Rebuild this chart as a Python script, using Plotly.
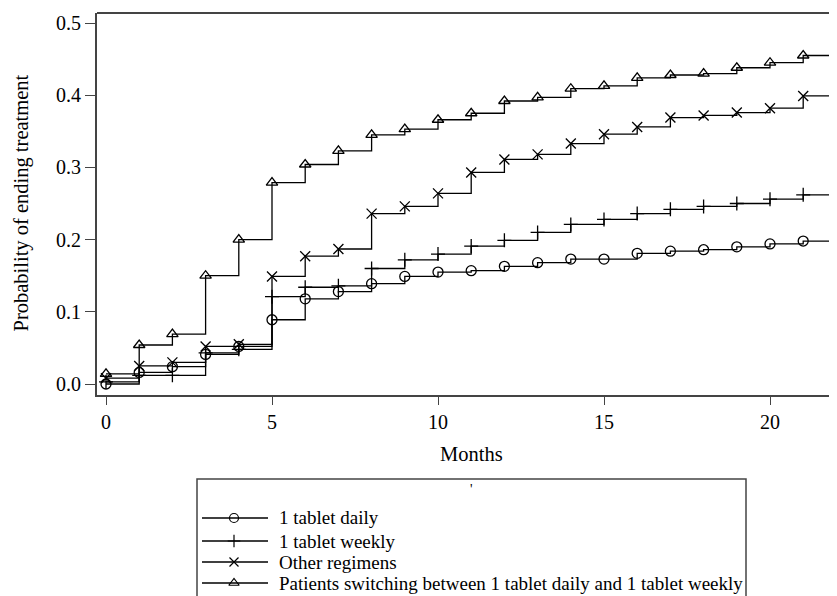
import plotly.graph_objects as go

months = list(range(0, 23))

daily = [0.000, 0.016, 0.024, 0.041, 0.052, 0.089, 0.118, 0.128, 0.139, 0.149, 0.155,
         0.157, 0.163, 0.168, 0.173, 0.173, 0.181, 0.184, 0.186, 0.190, 0.194, 0.198, 0.203]
weekly = [0.003, 0.012, 0.012, 0.043, 0.048, 0.121, 0.134, 0.136, 0.160, 0.172, 0.180,
          0.191, 0.199, 0.210, 0.221, 0.228, 0.236, 0.242, 0.246, 0.250, 0.256, 0.262, 0.267]
other = [0.008, 0.025, 0.030, 0.052, 0.055, 0.149, 0.177, 0.187, 0.236, 0.246, 0.264,
         0.293, 0.311, 0.318, 0.333, 0.346, 0.356, 0.369, 0.372, 0.376, 0.382, 0.399, 0.403]
switching = [0.014, 0.054, 0.069, 0.150, 0.200, 0.279, 0.304, 0.323, 0.345, 0.353, 0.366,
             0.375, 0.392, 0.397, 0.409, 0.413, 0.424, 0.428, 0.430, 0.438, 0.445, 0.455, 0.458]

series_names = ["1 tablet daily", "1 tablet weekly", "Other regimens",
                "Patients switching between 1 tablet daily and 1 tablet weekly"]
series_values = [daily, weekly, other, switching]
symbols = ["circle-open", "cross-thin-open", "x-thin-open", "triangle-up-open"]

x_ticks = [0, 5, 10, 15, 20]
y_ticks = [0.0, 0.1, 0.2, 0.3, 0.4, 0.5]
y_tick_labels = ["0.0", "0.1", "0.2", "0.3", "0.4", "0.5"]

# page geometry: the browser body has an 8px margin, so compensate for it
WIN_W, WIN_H, OFF = 837, 596, 8
W, H = WIN_W - 2 * OFF, WIN_H - OFF
RIGHT_PX = OFF + W
BOTTOM_PX = OFF + H
FONT = "Liberation Serif"
AX = "#444444"


def px_x(px):
    return (px - OFF) / W


def px_y(py):
    return (BOTTOM_PX - py) / H


fig = go.Figure()

for name, vals, sym in zip(series_names, series_values, symbols):
    fig.add_trace(go.Scatter(
        x=months, y=vals, mode="lines+markers", name=name,
        line=dict(color="black", width=1.3, shape="hv"),
        marker=dict(symbol=sym, size=10, color="black",
                    line=dict(color="black", width=1.3)),
        showlegend=False, xaxis="x", yaxis="y",
    ))

# manual legend drawn on a helper axis pair whose units are page pixels
legend_rows = [518, 541, 562, 583]
for name, sym, ry in zip(series_names, symbols, legend_rows):
    fig.add_trace(go.Scatter(
        x=[202, 268], y=[ry, ry], mode="lines",
        line=dict(color="black", width=1.3), showlegend=False,
        xaxis="x2", yaxis="y2", hoverinfo="skip"))
    fig.add_trace(go.Scatter(
        x=[234], y=[ry], mode="markers",
        marker=dict(symbol=sym, size=9, color="black",
                    line=dict(color="black", width=1.2)),
        showlegend=False, xaxis="x2", yaxis="y2", hoverinfo="skip"))
    fig.add_annotation(x=277, y=ry, xref="x2", yref="y2", text=name,
                       showarrow=False, xanchor="left", yanchor="middle",
                       font=dict(family=FONT, size=19, color="black"))

fig.add_annotation(x=471, y=490, xref="x2", yref="y2", text="'",
                   showarrow=False, font=dict(family=FONT, size=14, color="black"))

# plot frame geometry (page pixels)
x_left_px, x_zero_px, px_per_month = 97, 106, 33.2
x_min = (x_left_px - x_zero_px) / px_per_month
x_max = (RIGHT_PX - x_zero_px) / px_per_month
y_top_px, y_bot_px, y_zero_px, px_per_unit = 13, 395, 384, 722
y_min = -(y_bot_px - y_zero_px) / px_per_unit
y_max = (y_zero_px - y_top_px) / px_per_unit

fig.update_layout(
    width=W, height=H,
    margin=dict(l=0, r=0, t=0, b=0),
    paper_bgcolor="white", plot_bgcolor="white",
    font=dict(family=FONT, size=20, color="black"),
    xaxis=dict(domain=[px_x(x_left_px), 1.0], range=[x_min, x_max],
               tickmode="array", tickvals=x_ticks,
               ticks="outside", ticklen=8, tickwidth=1.3, tickcolor=AX,
               showline=True, linecolor=AX, linewidth=2, mirror=False,
               showgrid=False, zeroline=False,
               tickfont=dict(family=FONT, size=20, color="black")),
    yaxis=dict(domain=[px_y(y_bot_px), px_y(y_top_px)],
               range=[y_min, y_max],
               tickmode="array", tickvals=y_ticks, ticktext=y_tick_labels,
               ticks="outside", ticklen=10, tickwidth=1.3, tickcolor=AX,
               showline=True, linecolor=AX, linewidth=2, mirror=False,
               showgrid=False, zeroline=False,
               tickfont=dict(family=FONT, size=20, color="black")),
    xaxis2=dict(domain=[px_x(197), px_x(746)], range=[197, 746], anchor="y2",
                visible=False, fixedrange=True),
    yaxis2=dict(domain=[0, px_y(479)], range=[BOTTOM_PX, 479], anchor="x2",
                visible=False, fixedrange=True),
    shapes=[
        dict(type="line", xref="paper", yref="paper",
             x0=px_x(x_left_px), x1=1.0, y0=px_y(y_top_px), y1=px_y(y_top_px),
             line=dict(color=AX, width=2)),
        dict(type="rect", xref="paper", yref="paper",
             x0=px_x(197), x1=px_x(746), y0=-0.05, y1=px_y(479),
             line=dict(color=AX, width=1.5), fillcolor="rgba(0,0,0,0)"),
    ],
    annotations=list(fig.layout.annotations) + [
        dict(x=px_x(471), y=px_y(454), xref="paper", yref="paper",
             text="Months", showarrow=False, xanchor="center", yanchor="middle",
             font=dict(family=FONT, size=20.5, color="black")),
        dict(x=px_x(21), y=px_y(203.5), xref="paper", yref="paper",
             text="Probability of ending treatment", textangle=-90,
             showarrow=False, xanchor="center", yanchor="middle",
             font=dict(family=FONT, size=20.5, color="black")),
    ],
)

fig.write_html("out.html")
